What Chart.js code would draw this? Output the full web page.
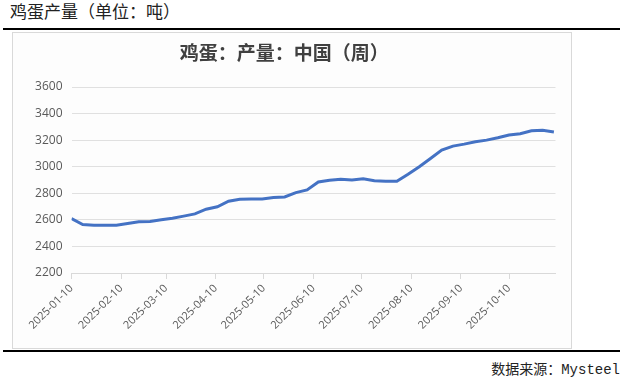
<!DOCTYPE html>
<html>
<head>
<meta charset="utf-8">
<script src="https://cdn.jsdelivr.net/npm/chart.js@4"></script>
<style>
  body { margin: 0; width: 626px; height: 385px; background: #fff; position: relative; overflow: hidden;
         font-family: "Noto Sans CJK SC", sans-serif; }
  #head { position: absolute; left: 10px; top: -1px; font-size: 17px; color: #222; line-height: 24px; }
  .rule { position: absolute; left: 3px; width: 617px; height: 2px; background: #000; }
  #box { position: absolute; left: 12px; top: 32px; width: 558px; height: 315px;
         border: 1px solid #d9d9d9; background: #fdfdfd; }
  #src { position: absolute; right: 6px; top: 360px; font-size: 14px; color: #222; line-height: 20px;
         font-family: "Liberation Mono", "Noto Sans CJK SC", monospace; }
</style>
</head>
<body>
<div id="head">鸡蛋产量（单位：吨）</div>
<div class="rule" style="top:28px"></div>
<div id="box"><canvas id="myChart" width="558" height="315"></canvas></div>
<div class="rule" style="top:350px"></div>
<div id="src">数据来源：Mysteel</div>
<script>
// weekly dates and output (tonnes)
var dates = [
  "2025-01-10", "2025-01-17", "2025-01-24", "2025-01-31",
  "2025-02-07", "2025-02-14", "2025-02-21", "2025-02-28",
  "2025-03-07", "2025-03-14", "2025-03-21", "2025-03-28",
  "2025-04-04", "2025-04-11", "2025-04-18", "2025-04-25",
  "2025-05-02", "2025-05-09", "2025-05-16", "2025-05-23", "2025-05-30",
  "2025-06-06", "2025-06-13", "2025-06-20", "2025-06-27",
  "2025-07-04", "2025-07-11", "2025-07-18", "2025-07-25",
  "2025-08-01", "2025-08-08", "2025-08-15", "2025-08-22", "2025-08-29",
  "2025-09-05", "2025-09-12", "2025-09-19", "2025-09-26",
  "2025-10-03", "2025-10-10", "2025-10-17", "2025-10-24", "2025-10-31",
  "2025-11-07"
];
var output = [
  2610, 2565, 2560, 2560,
  2560, 2572, 2585, 2588,
  2600, 2612, 2628, 2645,
  2680, 2698, 2740, 2755,
  2757, 2757, 2768, 2772, 2805,
  2825, 2885, 2898, 2905,
  2900, 2910, 2895, 2890,
  2890, 2943, 3000, 3062, 3125,
  3155, 3170, 3188, 3200,
  3218, 3238, 3248, 3270, 3275,
  3262
];
var tickDates = [
  "2025-01-10", "2025-02-10", "2025-03-10", "2025-04-10", "2025-05-10",
  "2025-06-10", "2025-07-10", "2025-08-10", "2025-09-10", "2025-10-10"
];
var yTicks = [2200, 2400, 2600, 2800, 3000, 3200, 3400, 3600];
var axisEnd = "2025-11-08";

var start = Date.parse(dates[0]);
function dayOf(d) { return (Date.parse(d) - start) / 86400000; }

window.onload = function () {
  var ctx = document.getElementById("myChart").getContext("2d");
  var points = dates.map(function (d, i) { return { x: dayOf(d), y: output[i] }; });

  new Chart(ctx, {
    type: "line",
    data: {
      datasets: [{
        label: "产量",
        data: points,
        borderColor: "#4472C4",
        borderWidth: 3,
        pointRadius: 0,
        tension: 0,
        fill: false
      }]
    },
    options: {
      responsive: false,
      animation: false,
      layout: { padding: { left: 0, right: 15.5, top: 0, bottom: 0 } },
      plugins: {
        legend: { display: false },
        tooltip: { enabled: false },
        title: {
          display: true,
          text: "鸡蛋：产量：中国（周）",
          color: "#404040",
          font: { family: "Noto Sans CJK SC", size: 19, weight: "bold", lineHeight: 1.2 },
          padding: { top: 8, bottom: 23.2 }
        }
      },
      scales: {
        x: {
          type: "linear",
          min: 0,
          max: dayOf(axisEnd),
          afterFit: function (s) { s.height = 75; },
          afterBuildTicks: function (s) {
            s.ticks = tickDates.map(function (d) { return { value: dayOf(d) }; });
          },
          ticks: {
            autoSkip: false,
            maxRotation: 45,
            minRotation: 45,
            color: "#595959",
            font: { family: "Open Sans", size: 11 },
            callback: function (v) {
              var i = tickDates.findIndex(function (d) { return dayOf(d) === v; });
              return i >= 0 ? tickDates[i] : "";
            }
          },
          grid: { drawOnChartArea: false, color: "#d9d9d9", tickLength: 6 },
          border: { color: "#d9d9d9" }
        },
        y: {
          min: yTicks[0],
          max: yTicks[yTicks.length - 1],
          afterFit: function (s) { s.width = 58.5; },
          afterBuildTicks: function (s) {
            s.ticks = yTicks.map(function (v) { return { value: v }; });
          },
          ticks: {
            color: "#595959",
            padding: 9,
            font: { family: "Open Sans", size: 12 },
            callback: function (v) { return String(v); }
          },
          grid: { color: "#e0e0e0", drawTicks: false },
          border: { display: false }
        }
      }
    }
  });
};
</script>
</body>
</html>
